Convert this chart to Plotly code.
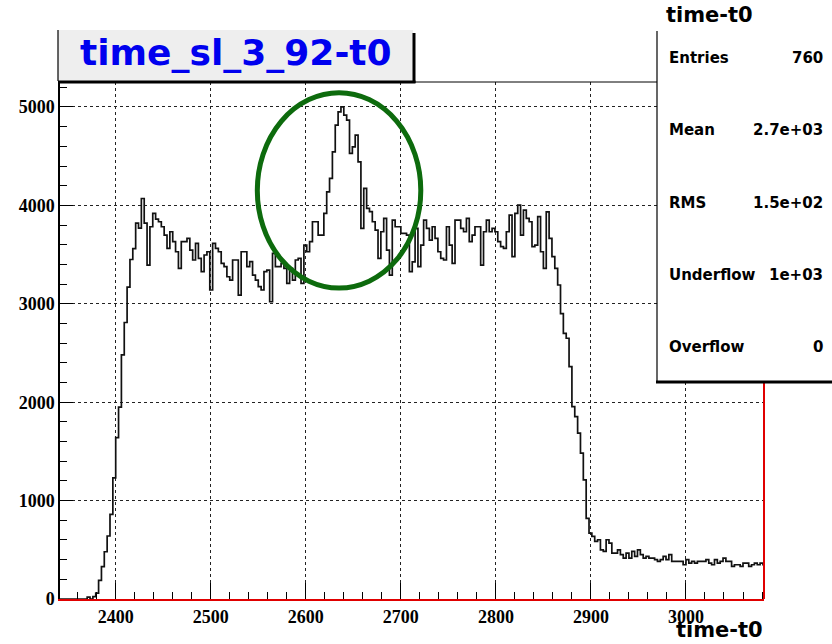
import plotly.graph_objects as go

# Histogram binning: 3-unit bins starting at 2340
bin_start = 2340
bin_width = 3
counts = [
    0, 0, 0, 0, 0, 0, 0, 0, 0, 0,
    20, 0, 25, 60, 190, 330, 480, 640, 860, 1230,
    1640, 1950, 2480, 2810, 3170, 3450, 3560, 3820, 3770, 4070,
    3820, 3394, 3783, 3919, 3860, 3834, 3783, 3698, 3563, 3732,
    3631, 3529, 3360, 3631, 3631, 3665, 3546, 3445, 3614, 3462,
    3326, 3496, 3529, 3140, 3614, 3563, 3529, 3411, 3377, 3275,
    3241, 3445, 3445, 3089, 3529, 3529, 3377, 3428, 3292, 3241,
    3174, 3140, 3326, 3343, 3021, 3513, 3377, 3377, 3411, 3360,
    3208, 3360, 3241, 3445, 3462, 3208, 3597, 3529, 3631, 3834,
    3834, 3698, 3698, 3919, 4138, 4274, 4544, 4815, 4950, 5001,
    4917, 4866, 4528, 4595, 4714, 4443, 3767, 4173, 3970, 3936,
    3834, 3749, 3462, 3732, 3868, 3546, 3292, 3851, 3783, 3783,
    3716, 3716, 3698, 3326, 3427, 3767, 3377, 3597, 3851, 3767,
    3648, 3783, 3665, 3529, 3462, 3445, 3783, 3597, 3411, 3851,
    3851, 3767, 3732, 3868, 3631, 3698, 3783, 3783, 3394, 3732,
    3851, 3732, 3767, 3732, 3631, 3580, 3563, 3732, 3902, 3479,
    3919, 4003, 3698, 3952, 3868, 3834, 3580, 3597, 3885, 3529,
    3360, 3935, 3665, 3479, 3360, 3191, 2900, 2700, 2650, 2362,
    1955, 1854, 1685, 1482, 1211, 820, 670, 636, 585, 602,
    500, 483, 602, 568, 467, 467, 500, 450, 416, 467,
    416, 483, 433, 500, 450, 416, 433, 416, 416, 400,
    382, 400, 433, 400, 450, 382, 382, 382, 382, 348,
    400, 365, 382, 365, 382, 382, 382, 400, 365, 348,
    400, 365, 382, 416, 382, 382, 331, 348, 348, 331,
    365, 365, 331, 348, 365, 348, 365, 350,
]

x_ticks = [2400, 2500, 2600, 2700, 2800, 2900, 3000]
y_ticks = [0, 1000, 2000, 3000, 4000, 5000]
x_range = [2341.4, 3082.1]
y_range = [0, 5254]

hist_title = "time_sl_3_92-t0"
axis_title = "time-t0"
stats_title = "time-t0"
stats_names = ["Entries", "Mean", "RMS", "Underflow", "Overflow"]
stats_values = ["760", "2.7e+03", "1.5e+02", "1e+03", "0"]

# highlighted region around the peak (data coordinates)
ring_x = [2549, 2721]
ring_y = [3160, 5145]

# step outline: left edges plus the closing right edge
edges = [bin_start + i * bin_width for i in range(len(counts) + 1)]
step_y = counts + [counts[-1]]

W, H = 832, 644
L, R, T, B = 60, 68, 82, 45
PW, PH = W - L - R, H - T - B


def fx(px):
    return (px - L) / PW


def fy(py):
    return (H - B - py) / PH


fig = go.Figure()
fig.add_trace(go.Scatter(
    x=edges, y=step_y, mode="lines", line_shape="hv",
    line=dict(color="#111111", width=1.7), hoverinfo="skip",
    showlegend=False, cliponaxis=True,
))

tick_font = dict(family="Liberation Serif", size=18, color="black", weight="bold")

fig.update_layout(
    width=W, height=H,
    margin=dict(l=L, r=R, t=T, b=B, pad=0),
    paper_bgcolor="white", plot_bgcolor="white",
    showlegend=False,
    xaxis=dict(
        range=x_range, tickvals=x_ticks, ticktext=[str(v) for v in x_ticks],
        ticks="inside", ticklen=16, tickwidth=1, tickcolor="black",
        showline=True, linecolor="#e00000", linewidth=2,
        showgrid=True, gridcolor="#222222", griddash="dot", gridwidth=1,
        zeroline=False, tickfont=tick_font,
        minor=dict(dtick=20, tick0=2400, ticks="inside", ticklen=7,
                   tickcolor="black", tickwidth=1, showgrid=False),
    ),
    yaxis=dict(
        range=y_range, tickvals=y_ticks, ticktext=[str(v) for v in y_ticks],
        ticks="inside", ticklen=13, tickwidth=1, tickcolor="black",
        showline=True, linecolor="black", linewidth=1.5,
        showgrid=True, gridcolor="#222222", griddash="dot", gridwidth=1,
        zeroline=False, tickfont=tick_font,
        minor=dict(dtick=200, tick0=0, ticks="inside", ticklen=7,
                   tickcolor="black", tickwidth=1, showgrid=False),
    ),
)

shapes = []
# frame: top edge and red right edge
shapes.append(dict(type="line", xref="paper", yref="paper",
                   x0=0, x1=fx(657), y0=1, y1=1,
                   line=dict(color="black", width=1)))
shapes.append(dict(type="line", xref="paper", yref="paper",
                   x0=1, x1=1, y0=0, y1=fy(380),
                   line=dict(color="#e00000", width=2)))
# title pave with shadow
shapes.append(dict(type="rect", xref="paper", yref="paper",
                   x0=fx(58), x1=fx(413), y0=fy(81), y1=fy(30),
                   fillcolor="#eeeeee", line=dict(width=0), layer="above"))
shapes.append(dict(type="line", xref="paper", yref="paper",
                   x0=fx(58), x1=fx(58), y0=fy(81), y1=fy(30),
                   line=dict(color="black", width=1.2)))
shapes.append(dict(type="line", xref="paper", yref="paper",
                   x0=fx(414), x1=fx(414), y0=fy(83), y1=fy(33),
                   line=dict(color="black", width=3)))
shapes.append(dict(type="line", xref="paper", yref="paper",
                   x0=fx(58), x1=fx(415.5), y0=fy(82), y1=fy(82),
                   line=dict(color="black", width=3)))
# statistics box with shadow
shapes.append(dict(type="rect", xref="paper", yref="paper",
                   x0=fx(657), x1=fx(845), y0=fy(381), y1=fy(31),
                   fillcolor="white", line=dict(width=0), layer="above"))
shapes.append(dict(type="line", xref="paper", yref="paper",
                   x0=fx(657), x1=fx(657), y0=fy(381), y1=fy(31),
                   line=dict(color="black", width=1.2)))
shapes.append(dict(type="line", xref="paper", yref="paper",
                   x0=fx(656), x1=fx(845), y0=fy(382), y1=fy(382),
                   line=dict(color="black", width=3)))
# green ring around the peak
shapes.append(dict(type="circle", xref="x", yref="y",
                   x0=ring_x[0], x1=ring_x[1], y0=ring_y[0], y1=ring_y[1],
                   line=dict(color="#0d6b0d", width=5)))
fig.update_layout(shapes=shapes)

ann = []
ann.append(dict(text=hist_title, xref="paper", yref="paper",
                x=fx(236), y=fy(53), xanchor="center", yanchor="middle",
                showarrow=False,
                font=dict(family="DejaVu Sans", size=36, color="#0000ee", weight="bold")))
ann.append(dict(text=stats_title, xref="paper", yref="paper",
                x=fx(664), y=fy(15), xanchor="left", yanchor="middle",
                showarrow=False,
                font=dict(family="DejaVu Sans", size=21, color="black", weight="bold")))
stat_rows = [58, 130, 203, 275, 347]
for name, val, py in zip(stats_names, stats_values, stat_rows):
    ann.append(dict(text=name, xref="paper", yref="paper",
                    x=fx(667), y=fy(py), xanchor="left", yanchor="middle",
                    showarrow=False,
                    font=dict(family="DejaVu Sans", size=15, color="black", weight="bold")))
    ann.append(dict(text=val, xref="paper", yref="paper",
                    x=fx(825), y=fy(py), xanchor="right", yanchor="middle",
                    showarrow=False,
                    font=dict(family="DejaVu Sans", size=15, color="black", weight="bold")))
ann.append(dict(text=axis_title, xref="paper", yref="paper",
                x=fx(765), y=fy(644), xanchor="right", yanchor="bottom",
                showarrow=False,
                font=dict(family="DejaVu Sans", size=21, color="black", weight="bold")))
fig.update_layout(annotations=ann)

fig.write_html("out.html")
